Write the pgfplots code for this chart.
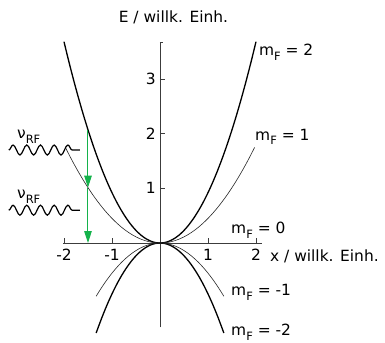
\documentclass[border=0pt]{standalone}
\usepackage{pgfplots}
\pgfplotsset{compat=1.18}
\usepackage{fontspec}
\setmainfont{DejaVu Sans}
\usetikzlibrary{arrows.meta,decorations.pathmorphing}

\definecolor{rfgreen}{RGB}{20,178,75}
\definecolor{axgray}{RGB}{60,60,60}
\newcommand{\sub}[1]{\raisebox{-0.32em}{\fontsize{11.5}{12}\selectfont #1}}
\newcommand{\mF}[1]{m\sub{F} = #1}

\begin{document}
\fontsize{15.5}{18}\selectfont
\begin{tikzpicture}
\begin{axis}[
    scale only axis,
    width=198.7bp, height=285bp,
    xmin=-2.02, xmax=2.12,
    ymin=-1.54, ymax=3.67,
    axis lines=middle,
    axis line style={axgray, line width=0.9bp, -},
    clip=false,
    xtick={-2,-1,1,2}, xticklabels={-2,-1,1,2},
    ytick={1,2,3}, yticklabels={1,2,3},
    major tick length=5bp,
    tick style={axgray, line width=0.7bp},
    xtick align=inside, ytick align=inside,
    xticklabel style={anchor=north, yshift=-1bp},
    yticklabel style={anchor=east, xshift=1bp},
]
    % m_F = 2 and m_F = -2 (thick)
    \addplot[black, line width=1.3bp, smooth] coordinates {
        (-2.0,3.680) (-1.9,3.321) (-1.8,2.981) (-1.7,2.659) (-1.6,2.355)
        (-1.5,2.070) (-1.4,1.803) (-1.3,1.555) (-1.2,1.325) (-1.1,1.113)
        (-1.0,0.920) (-0.9,0.745) (-0.8,0.589) (-0.7,0.451) (-0.6,0.331)
        (-0.5,0.230) (-0.4,0.147) (-0.3,0.083) (-0.2,0.037) (-0.1,0.009)
        (0,0) (0.1,0.009) (0.2,0.037) (0.3,0.083) (0.4,0.147) (0.5,0.230)
        (0.6,0.331) (0.7,0.451) (0.8,0.589) (0.9,0.745) (1.0,0.920)
        (1.1,1.113) (1.2,1.325) (1.3,1.555) (1.4,1.803) (1.5,2.070)
        (1.6,2.355) (1.7,2.659) (1.8,2.981) (1.9,3.321) (2.0,3.680)};
    \addplot[black, line width=1.3bp, smooth] coordinates {
        (-1.33,-1.645) (-1.3,-1.572) (-1.2,-1.339) (-1.1,-1.125) (-1.0,-0.930)
        (-0.9,-0.753) (-0.8,-0.595) (-0.7,-0.456) (-0.6,-0.335) (-0.5,-0.233)
        (-0.4,-0.149) (-0.3,-0.084) (-0.2,-0.037) (-0.1,-0.009) (0,0)
        (0.1,-0.009) (0.2,-0.037) (0.3,-0.084) (0.4,-0.149) (0.5,-0.233)
        (0.6,-0.335) (0.7,-0.456) (0.8,-0.595) (0.9,-0.753) (1.0,-0.930)
        (1.1,-1.125) (1.2,-1.339) (1.3,-1.572) (1.33,-1.645)};
    % m_F = 1 and m_F = -1 (thin)
    \addplot[black!85, line width=0.6bp, smooth] coordinates {
        (-1.97,1.746) (-1.9,1.625) (-1.8,1.458) (-1.7,1.301) (-1.6,1.152)
        (-1.5,1.013) (-1.4,0.882) (-1.3,0.761) (-1.2,0.648) (-1.1,0.545)
        (-1.0,0.450) (-0.9,0.365) (-0.8,0.288) (-0.7,0.221) (-0.6,0.162)
        (-0.5,0.113) (-0.4,0.072) (-0.3,0.041) (-0.2,0.018) (-0.1,0.005)
        (0,0) (0.1,0.005) (0.2,0.018) (0.3,0.041) (0.4,0.072) (0.5,0.113)
        (0.6,0.162) (0.7,0.221) (0.8,0.288) (0.9,0.365) (1.0,0.450)
        (1.1,0.545) (1.2,0.648) (1.3,0.761) (1.4,0.882) (1.5,1.013)
        (1.6,1.152) (1.7,1.301) (1.8,1.458) (1.9,1.625) (1.97,1.746)};
    \addplot[black!85, line width=0.6bp, smooth] coordinates {
        (-1.33,-0.973) (-1.3,-0.930) (-1.2,-0.792) (-1.1,-0.666) (-1.0,-0.550)
        (-0.9,-0.446) (-0.8,-0.352) (-0.7,-0.270) (-0.6,-0.198) (-0.5,-0.138)
        (-0.4,-0.088) (-0.3,-0.050) (-0.2,-0.022) (-0.1,-0.006) (0,0)
        (0.1,-0.006) (0.2,-0.022) (0.3,-0.050) (0.4,-0.088) (0.5,-0.138)
        (0.6,-0.198) (0.7,-0.270) (0.8,-0.352) (0.9,-0.446) (1.0,-0.550)
        (1.1,-0.666) (1.2,-0.792) (1.3,-0.930) (1.33,-0.973)};

    % RF transitions
    \addplot[rfgreen, line width=1bp, -{Triangle[length=12bp,width=7.5bp]}]
        coordinates {(-1.5,2.070) (-1.5,1.013)};
    \addplot[rfgreen, line width=1bp, -{Triangle[length=12bp,width=7.5bp]}]
        coordinates {(-1.5,1.013) (-1.5,0)};

    % small mark at top of y axis
    \draw[axgray, line width=0.7bp] (axis cs:0,3.67) -- ([xshift=3bp]axis cs:0,3.67);

    % RF photons
    \draw[black, line width=1.2bp, decorate,
          decoration={snake, amplitude=5bp, segment length=13.7bp, post length=2bp}]
        (axis cs:-3.15,1.70) -- (axis cs:-1.67,1.70);
    \draw[black, line width=1.2bp, decorate,
          decoration={snake, amplitude=5bp, segment length=13.7bp, post length=2bp}]
        (axis cs:-3.15,0.60) -- (axis cs:-1.67,0.60);
    \node[anchor=west, inner sep=0pt] at (axis cs:-2.98,1.95) {ν\sub{RF}};
    \node[anchor=west, inner sep=0pt] at (axis cs:-2.98,0.85) {ν\sub{RF}};

    % level labels
    \node[anchor=west, inner sep=0pt] at (axis cs:2.06,3.49) {\mF{2}};
    \node[anchor=west, inner sep=0pt] at (axis cs:1.98,1.94) {\mF{1}};
    \node[anchor=west, inner sep=0pt] at (axis cs:1.48,0.24) {\mF{0}};
    \node[anchor=west, inner sep=0pt] at (axis cs:1.48,-0.91) {\mF{-1}};
    \node[anchor=west, inner sep=0pt] at (axis cs:1.48,-1.63) {\mF{-2}};

    % axis labels
    \node[inner sep=0pt] at (axis cs:0.28,4.13) {E / willk. Einh.};
    \node[anchor=base west, inner sep=0pt] at (axis cs:2.29,-0.33) {x / willk. Einh.};

    % page frame
    \path (axis cs:-3.333,4.442) rectangle (axis cs:4.6875,-1.81);
\end{axis}
\end{tikzpicture}
\end{document}
